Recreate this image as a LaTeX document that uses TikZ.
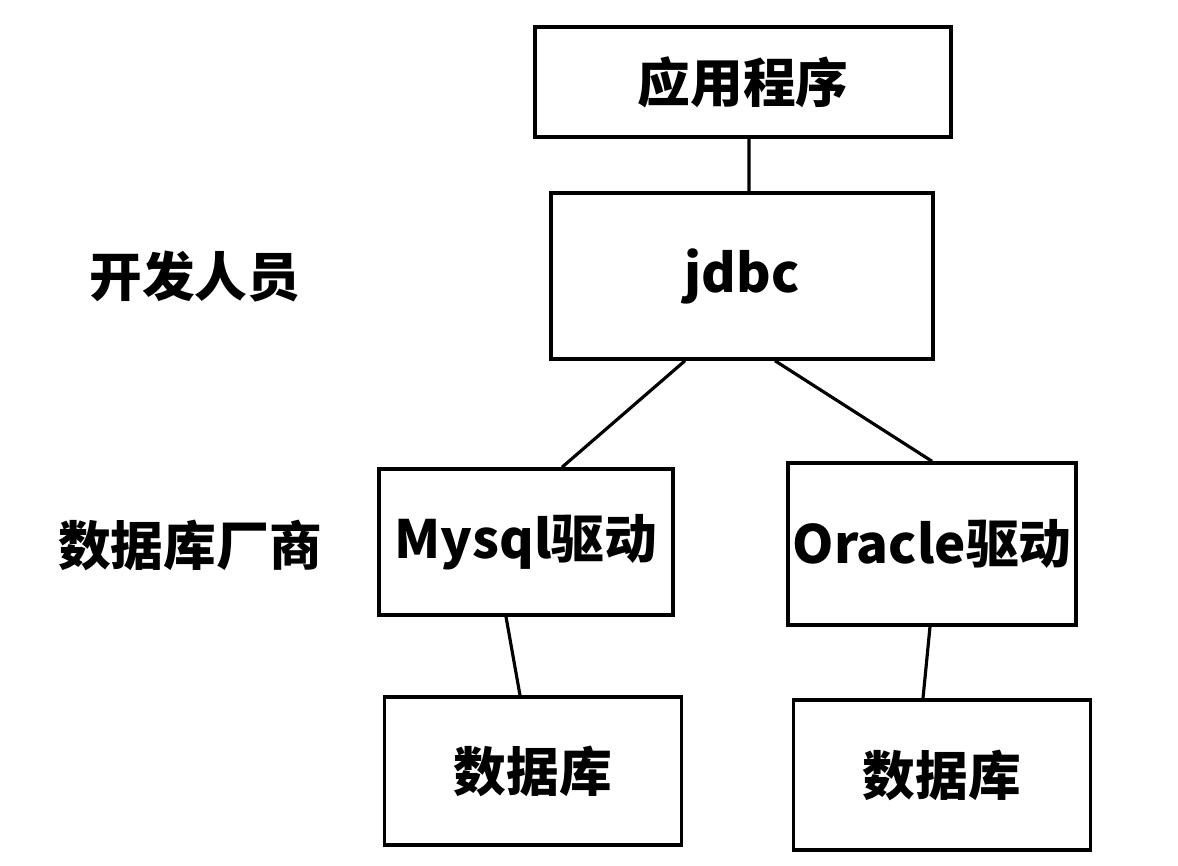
\documentclass[tikz,border=0pt]{standalone}
\usepackage{fontspec}
\setmainfont{Noto Sans CJK SC}
\usepackage{tikz}
\usetikzlibrary{positioning}

\begin{document}
\begin{tikzpicture}[
    x=0.02cm, y=-0.02cm,
    box/.style={rectangle, draw, line width=2pt, inner sep=0pt, align=center,
        font=\fontsize{30pt}{36pt}\selectfont\bfseries},
    lbl/.style={inner sep=0pt, font=\fontsize{30pt}{36pt}\selectfont\bfseries},
    conn/.style={line width=1.8pt}
]
    \useasboundingbox (0,0) rectangle (1178,866);

    % left-hand labels
    \node[lbl] (dev) at (195,277) {开发人员};
    \node[lbl] (vendor) at (190,545) {数据库厂商};

    % boxes
    \node[box, minimum width=8.32cm, minimum height=2.2cm] (app) at (743,82) {应用程序};
    \node[box, minimum width=7.64cm, minimum height=3.32cm] (jdbc) at (742,276) {jdbc};
    \node[box, minimum width=5.88cm, minimum height=2.92cm] (mysql) at (526,542) {Mysql驱动};
    \node[box, minimum width=5.76cm, minimum height=3.24cm] (oracle) at (932,544) {Oracle驱动};
    \node[box, minimum width=5.94cm, minimum height=2.96cm] (dbl) at (533,771) {数据库};
    \node[box, minimum width=5.94cm, minimum height=3.0cm] (dbr) at (942,775) {数据库};

    % connectors
    \draw[conn] ([xshift=0.12cm]app.south) -- ([xshift=0.14cm]jdbc.north);
    \draw[conn] ([xshift=-1.14cm]jdbc.south) -- ([xshift=0.72cm]mysql.north);
    \draw[conn] ([xshift=0.66cm]jdbc.south) -- (oracle.north);
    \draw[conn] ([xshift=-0.4cm]mysql.south) -- ([xshift=-0.26cm]dbl.north);
    \draw[conn] ([xshift=-0.04cm]oracle.south) -- ([xshift=-0.38cm]dbr.north);
\end{tikzpicture}
\end{document}
